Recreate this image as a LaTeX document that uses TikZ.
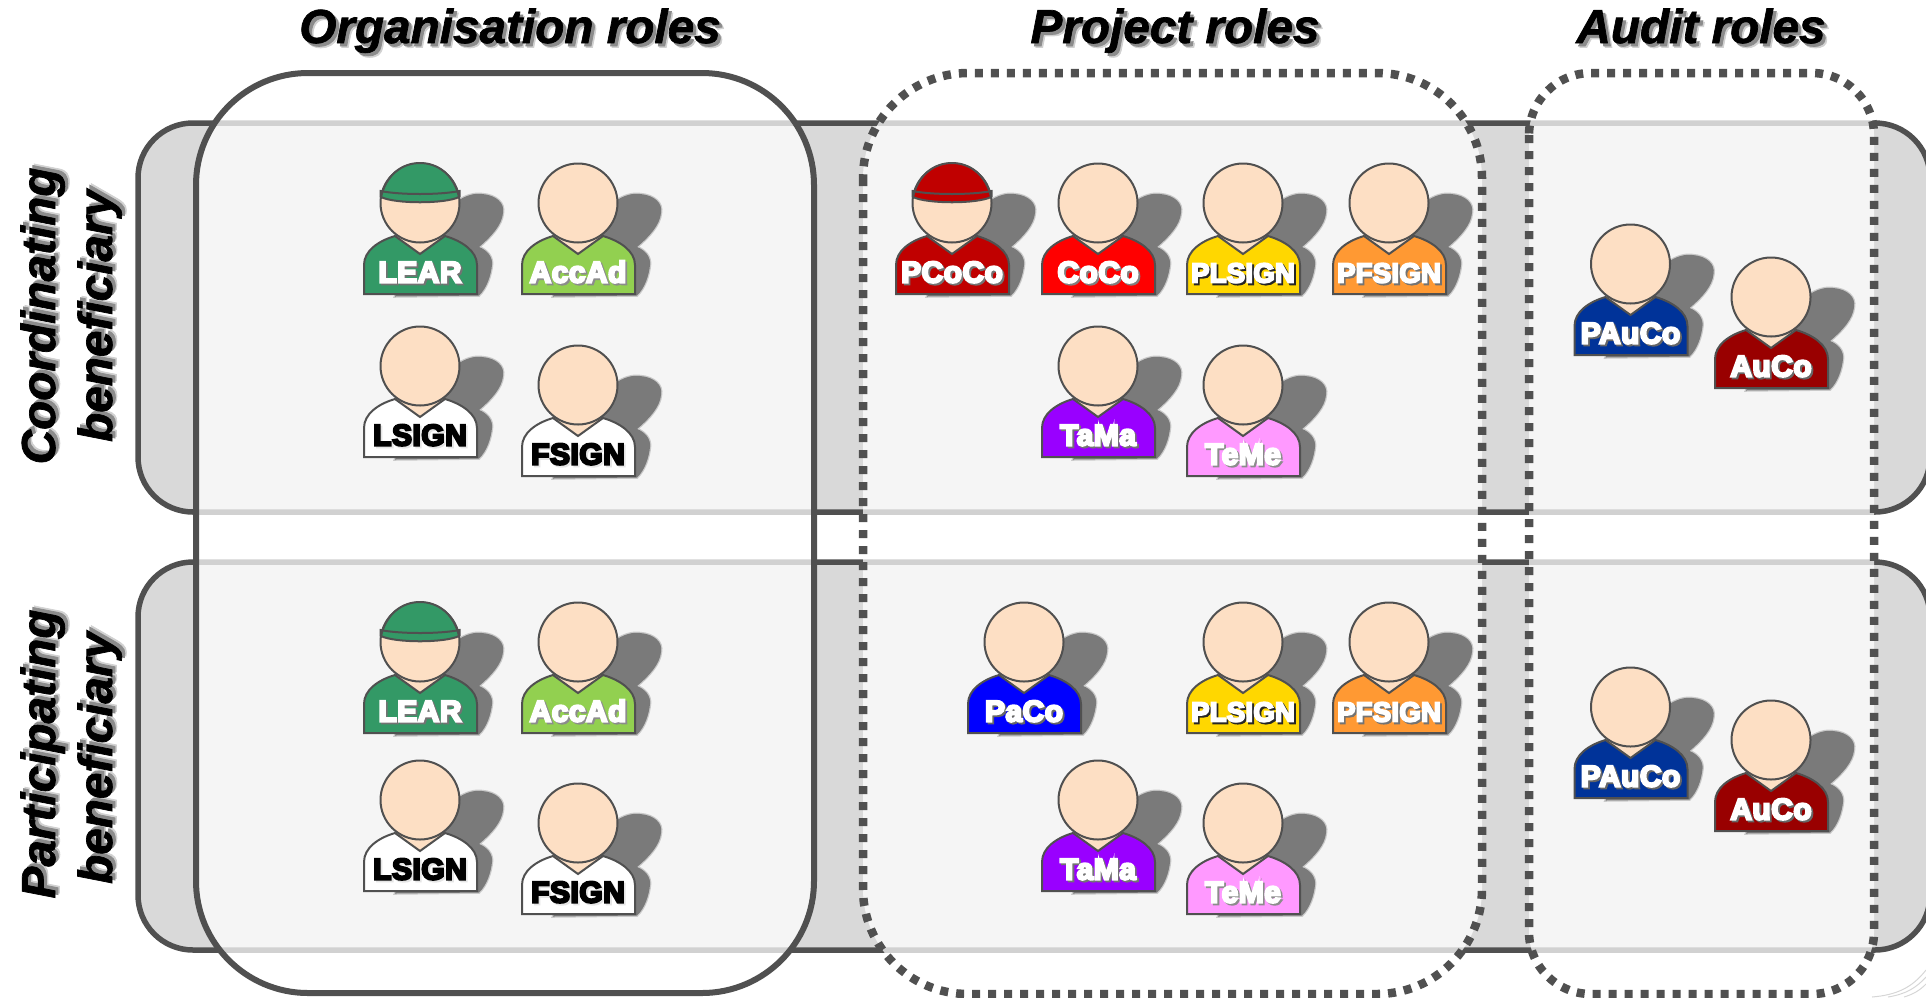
\documentclass[tikz,border=0pt]{standalone}
\usepackage{fontspec}
\setmainfont{Liberation Sans}
\font\labelface="Liberation Sans/B:embolden=7;letterspace=1.5" at 30pt
\font\signface="Liberation Sans/B:embolden=7;letterspace=1" at 27.5pt
\font\titleface="Liberation Sans/BI:embolden=1.5" at 47.7pt
\definecolor{ink}{HTML}{505050}
\definecolor{bandfill}{HTML}{D9D9D9}
\definecolor{skin}{HTML}{FDDFC4}
\definecolor{shadowgray}{HTML}{7A7A7A}
\definecolor{cLear}{HTML}{339966}
\definecolor{cAcc}{HTML}{92D050}
\definecolor{cPCoCo}{HTML}{C00000}
\definecolor{cCoCo}{HTML}{FF0000}
\definecolor{cPL}{HTML}{FFD700}
\definecolor{cPF}{HTML}{FF9933}
\definecolor{cTaMa}{HTML}{9900FF}
\definecolor{cTeMe}{HTML}{FF99FF}
\definecolor{cPaCo}{HTML}{0000FF}
\definecolor{cPAu}{HTML}{003399}
\definecolor{cAu}{HTML}{990000}
\tikzset{
  x=1pt,y=-1pt,
  bandbox/.style={fill=bandfill,draw=ink,line width=5.5pt,rounded corners=55pt},
  colveil/.style={fill=white,fill opacity=.74},
  solidcol/.style={draw=ink,line width=6pt},
  dotcol/.style={draw=ink,line width=8.5pt,dash pattern=on 8pt off 8pt},
  outline/.style={draw=ink,line width=2pt,line join=miter},
  titletext/.style={font=\titleface,inner sep=0pt,anchor=base,align=center},
  roletext/.style={font=\labelface,inner sep=0pt,anchor=base},
}
% blurred shadow text, all inside one node
\newcommand\softshadow[2]{\leavevmode\rlap{\kern4.5pt\raisebox{-4.5pt}{\textcolor{black!18}{#2}}}\rlap{\kern3pt\raisebox{-3pt}{\textcolor{#1}{#2}}}#2}
\newcommand\labshadow[3]{\leavevmode\rlap{\kern1.8pt\raisebox{-1.8pt}{\textcolor{#1}{#3}}}\textcolor{#2}{#3}}
\newcommand\roleman[8]{% name, x, y, shirt, text colour, text shadow, label, hat
  \begin{scope}[shift={(#2,#3)}]
    \path[fill=shadowgray,draw=shadowgray,draw opacity=.35,line width=2.5pt]
      (35,0) .. controls (45,-8) and (55,-10) .. (62,-9)
      .. controls (76,-8) and (85,0) .. (83,10)
      .. controls (82,22) and (71,34) .. (59,44)
      .. controls (67,47) and (73,54) .. (72,62)
      .. controls (71,72) and (67,85) .. (59,92.5)
      -- (-25,93.5) -- (0,40) -- cycle;
    \fill[skin] (-25,33) -- (0,51) -- (25,33) -- cycle;
    \path[fill=#4,outline] (-56,91) -- (-56,62)
      .. controls (-56,48) and (-42,38) .. (-25,33) -- (0,51) -- (25,33)
      .. controls (42,38) and (57,48) .. (57,62) -- (57,91) -- cycle;
    \path[fill=skin,outline] (0,0) circle[radius=39.5];
    \ifx&#8&\else
      \path[fill=#8,outline] (-39,-6) .. controls (-34,-28) and (-18,-40) .. (0,-40)
        .. controls (18,-40) and (34,-28) .. (39,-6)
        .. controls (25,1) and (-25,1) .. (-39,-6) -- cycle;
      \draw[outline] (-39.5,-6) -- (-39.5,-12) .. controls (-20,-8) and (20,-8) .. (39.5,-12) -- (39.5,-6);
    \fi
    \node[roletext] (#1) at (0,79.5) {\labshadow{#6}{#5}{#7}};
  \end{scope}
}
\begin{document}
\begin{tikzpicture}
\useasboundingbox (0,0) rectangle (1926,997);
% bands
\path[bandbox] (138,123) rectangle (1930,512);
\path[bandbox] (138,562) rectangle (1930,950);
% column veils
\path[colveil,rounded corners=112pt] (196,73) rectangle (814,993);
\path[colveil,rounded corners=105pt] (863,73) rectangle (1482,994);
\path[colveil,rounded corners=62pt] (1529,73) rectangle (1874,994);
% column outlines
\path[solidcol,rounded corners=112pt] (196,73) rectangle (814,993);
\path[dotcol,rounded corners=105pt] (863,73) rectangle (1482,994);
\path[dotcol,rounded corners=62pt] (1529,73) rectangle (1874,994);
% page curl
\draw[black!16,line width=1pt] (1926,970) .. controls (1912,988) and (1896,995) .. (1872,997);
\draw[black!16,line width=1pt] (1926,977) .. controls (1916,988) and (1906,994) .. (1888,997);
\draw[black!16,line width=1pt] (1926,984) .. controls (1920,990) and (1914,994) .. (1904,997);
% titles
\node[titletext] (tOrg) at (510,43) {\softshadow{black!45}{Organisation roles}};
\node[titletext] (tProj) at (1175,43) {\softshadow{black!45}{Project roles}};
\node[titletext] (tAud) at (1701,43) {\softshadow{black!45}{Audit roles}};
\node[titletext,rotate=90,anchor=base] (lCoord) at (55,316) {\softshadow{black!45}{Coordinating}};
\node[titletext,rotate=90,anchor=base] (lBenA) at (112,316) {\softshadow{black!45}{beneficiary}};
\node[titletext,rotate=90,anchor=base] (lPart) at (55,754) {\softshadow{black!45}{Participating}};
\node[titletext,rotate=90,anchor=base] (lBenB) at (112,758) {\softshadow{black!45}{beneficiary}};
% top row
\roleman{a1}{420}{203}{cLear}{white}{black!55}{LEAR}{cLear}
\roleman{a2}{578}{203}{cAcc}{white}{black!45}{AccAd}{}
\roleman{a3}{420}{366}{white}{black}{black!10}{LSIGN}{}
\roleman{a4}{578}{385}{white}{black}{black!10}{FSIGN}{}
\roleman{a5}{952}{203}{cPCoCo}{white}{black!55}{PCoCo}{cPCoCo}
\roleman{a6}{1098}{203}{cCoCo}{white}{black!50}{CoCo}{}
\roleman{a7}{1243}{203}{cPL}{white}{black!85}{\signface PLSIGN}{}
\roleman{a8}{1389}{203}{cPF}{white}{black!55}{\signface PFSIGN}{}
\roleman{a9}{1098}{366}{cTaMa}{white}{black!55}{TaMa}{}
\roleman{a10}{1243}{385}{cTeMe}{white}{black!45}{TeMe}{}
\roleman{a11}{1630.5}{264}{cPAu}{white}{black!60}{PAuCo}{}
\roleman{a12}{1771}{297}{cAu}{white}{black!60}{AuCo}{}
% lower row
\roleman{b1}{420}{642}{cLear}{white}{black!55}{LEAR}{cLear}
\roleman{b2}{578}{642}{cAcc}{white}{black!45}{AccAd}{}
\roleman{b3}{420}{800}{white}{black}{black!10}{LSIGN}{}
\roleman{b4}{578}{823}{white}{black}{black!10}{FSIGN}{}
\roleman{b5}{1024}{642}{cPaCo}{white}{black!60}{PaCo}{}
\roleman{b6}{1243}{642}{cPL}{white}{black!85}{\signface PLSIGN}{}
\roleman{b7}{1389}{642}{cPF}{white}{black!55}{\signface PFSIGN}{}
\roleman{b8}{1098}{800}{cTaMa}{white}{black!55}{TaMa}{}
\roleman{b9}{1243}{823}{cTeMe}{white}{black!45}{TeMe}{}
\roleman{b10}{1630.5}{707}{cPAu}{white}{black!60}{PAuCo}{}
\roleman{b11}{1771}{740}{cAu}{white}{black!60}{AuCo}{}
\end{tikzpicture}
\end{document}
